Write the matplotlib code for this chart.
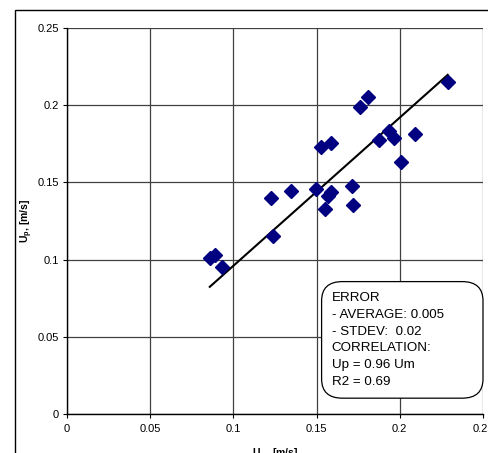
import matplotlib
matplotlib.use('Agg')
import matplotlib.pyplot as plt
from matplotlib.patches import Rectangle, FancyBboxPatch

plt.rcParams['font.family'] = ['Liberation Sans', 'DejaVu Sans']
plt.rcParams['mathtext.fontset'] = 'custom'
plt.rcParams['mathtext.rm'] = 'Liberation Sans'
plt.rcParams['mathtext.bf'] = 'Liberation Sans:bold'

# Data
um = [0.0858, 0.0888, 0.0934, 0.1238, 0.1228, 0.1344, 0.1494, 0.1588, 0.1568,
      0.1548, 0.1712, 0.1718, 0.2288, 0.1808, 0.1758, 0.1588, 0.1524, 0.1876,
      0.1936, 0.1968, 0.2090, 0.2010]
up = [0.1008, 0.1030, 0.0954, 0.1155, 0.1400, 0.1446, 0.1457, 0.1440, 0.1412,
      0.1326, 0.1477, 0.1354, 0.2152, 0.2051, 0.1986, 0.1757, 0.1727, 0.1775,
      0.1835, 0.1786, 0.1813, 0.1634]
slope = 0.96

x_ticks = [0, 0.05, 0.1, 0.15, 0.2, 0.25]
x_labels = ['0', '0.05', '0.1', '0.15', '0.2', '0.25']
y_ticks = [0, 0.05, 0.1, 0.15, 0.2, 0.25]
y_labels = ['0', '0.05', '0.1', '0.15', '0.2', '0.25']

info_lines = ['ERROR', '- AVERAGE: 0.005', '- STDEV:  0.02', 'CORRELATION:',
              'Up = 0.96 Um', 'R2 = 0.69']

fig = plt.figure(figsize=(4.88, 4.53), dpi=100)
ax = fig.add_axes([67/488, 1 - 414/453, 416/488, 386/453])

# outer chart border (partly cut off)
fig.add_artist(Rectangle((15/488, -0.2), 2, 1 - 10/453 + 0.2, transform=fig.transFigure,
                         fill=False, edgecolor='black', lw=1.0))

ax.set_xlim(0, 0.25)
ax.set_ylim(0, 0.25)
ax.set_xticks(x_ticks)
ax.set_xticklabels(x_labels)
ax.set_yticks(y_ticks)
ax.set_yticklabels(y_labels)
ax.tick_params(labelsize=8, length=3, width=0.8, direction='out')
ax.tick_params(axis='x', pad=4)
ax.tick_params(axis='y', pad=3)
ax.grid(True, color='#404040', lw=0.9)
ax.set_axisbelow(True)
for side in ['top', 'right']:
    ax.spines[side].set_visible(False)
for side in ['left', 'bottom']:
    ax.spines[side].set_linewidth(1.0)

# fitted line Up = 0.96 Um
x0, x1 = min(um), max(um)
ax.plot([x0, x1], [slope * x0, slope * x1], color='black', lw=1.5, zorder=3)
ax.plot(um, up, 'D', color='#000080', markersize=7.5, zorder=4)

ax.set_xlabel(r'$\mathbf{U_m}$, [m/s]', fontsize=7.5, fontweight='bold')
ax.set_ylabel(r'$\mathbf{U_p}$, [m/s]', fontsize=7.5, fontweight='bold')
ax.xaxis.set_label_coords(0.5, -0.083)
ax.yaxis.set_label_coords(-0.077, 0.5)

# info box
box = FancyBboxPatch((0.612, 0.041), 0.388, 0.302,
                     boxstyle='round,pad=0,rounding_size=0.05',
                     transform=ax.transAxes, facecolor='white', edgecolor='black',
                     lw=0.9, zorder=5, clip_on=False)
ax.add_patch(box)
for i, line in enumerate(info_lines):
    ax.text(0.636, (414 - 298.3 - i * 16.7) / 386, line, transform=ax.transAxes,
            fontsize=9.6, va='center', ha='left', zorder=6)

plt.savefig('out.png', dpi=100)
